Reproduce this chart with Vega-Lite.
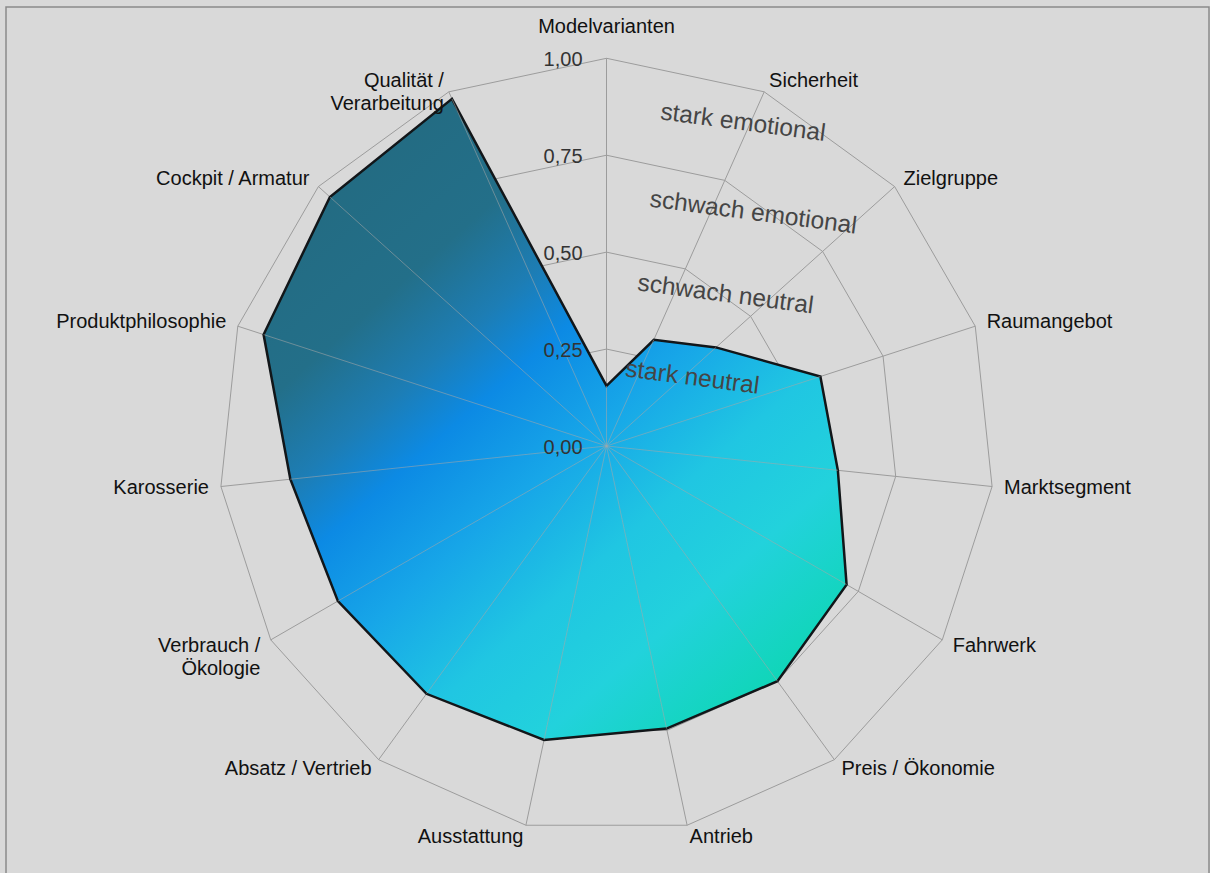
{
  "$schema": "https://vega.github.io/schema/vega-lite/v6.json",
  "width": 1203,
  "height": 868,
  "autosize": "none",
  "padding": {"left": 6, "top": 7, "right": 1, "bottom": 0},
  "background": "#d9d9d9",
  "config": {
    "view": {"stroke": "#8a8a8a", "strokeWidth": 1.5, "fill": "#d9d9d9"},
    "font": "Liberation Sans"
  },
  "datasets": {
    "scores": [
      {"kategorie": "Modelvarianten", "wert": 0.155},
      {"kategorie": "Sicherheit", "wert": 0.30},
      {"kategorie": "Zielgruppe", "wert": 0.38},
      {"kategorie": "Raumangebot", "wert": 0.58},
      {"kategorie": "Marktsegment", "wert": 0.60},
      {"kategorie": "Fahrwerk", "wert": 0.715},
      {"kategorie": "Preis / Ökonomie", "wert": 0.75},
      {"kategorie": "Antrieb", "wert": 0.745},
      {"kategorie": "Ausstattung", "wert": 0.775},
      {"kategorie": "Absatz / Vertrieb", "wert": 0.79},
      {"kategorie": "Verbrauch / Ökologie", "wert": 0.80},
      {"kategorie": "Karosserie", "wert": 0.82},
      {"kategorie": "Produktphilosophie", "wert": 0.93},
      {"kategorie": "Cockpit / Armatur", "wert": 0.96},
      {"kategorie": "Qualität / Verarbeitung", "wert": 0.98}
    ],
    "stufen": [
      {"stufe": 0, "text": "0,00"},
      {"stufe": 0.25, "text": "0,25"},
      {"stufe": 0.5, "text": "0,50"},
      {"stufe": 0.75, "text": "0,75"},
      {"stufe": 1, "text": "1,00"}
    ],
    "zonen": [
      {"zone": "stark emotional", "r": 0.904, "grad": 22.9},
      {"zone": "schwach emotional", "r": 0.71, "grad": 32.2},
      {"zone": "schwach neutral", "r": 0.496, "grad": 38.2},
      {"zone": "stark neutral", "r": 0.282, "grad": 51.6}
    ]
  },
  "layer": [
    {
      "data": {"name": "scores"},
      "transform": [
        {"window": [{"op": "row_number", "as": "nr"}]},
        {"calculate": "(datum.nr - 1) * 2 * PI / 15", "as": "a"},
        {"calculate": "datum.nr * 2 * PI / 15", "as": "a2"},
        {"calculate": "[0.25, 0.5, 0.75, 1]", "as": "ring"},
        {"flatten": ["ring"]},
        {"calculate": "datum.ring * sin(datum.a)", "as": "x"},
        {"calculate": "datum.ring * cos(datum.a)", "as": "y"},
        {"calculate": "datum.ring * sin(datum.a2)", "as": "xe"},
        {"calculate": "datum.ring * cos(datum.a2)", "as": "ye"}
      ],
      "mark": {"type": "rule", "color": "#9c9c9c", "strokeWidth": 1},
      "encoding": {
        "x": {"field": "x", "type": "quantitative", "scale": {"domain": [-1.5489, 1.554], "nice": false, "zero": false}, "axis": null},
        "y": {"field": "y", "type": "quantitative", "scale": {"domain": [-1.1065, 1.1323], "nice": false, "zero": false}, "axis": null},
        "x2": {"field": "xe"},
        "y2": {"field": "ye"}
      }
    },
    {
      "data": {"name": "scores"},
      "transform": [
        {"window": [{"op": "row_number", "as": "nr"}]},
        {"calculate": "(datum.nr - 1) * 2 * PI / 15", "as": "a"},
        {"calculate": "0", "as": "mx"},
        {"calculate": "sin(datum.a)", "as": "sx"},
        {"calculate": "cos(datum.a)", "as": "sy"}
      ],
      "mark": {"type": "rule", "color": "#9c9c9c", "strokeWidth": 1},
      "encoding": {
        "x": {"field": "mx", "type": "quantitative"},
        "y": {"field": "mx", "type": "quantitative"},
        "x2": {"field": "sx"},
        "y2": {"field": "sy"}
      }
    },
    {
      "data": {"name": "scores"},
      "transform": [
        {"window": [{"op": "row_number", "as": "nr"}]},
        {"calculate": "(datum.nr - 1) * 2 * PI / 15", "as": "a"},
        {"calculate": "datum.wert * sin(datum.a)", "as": "px"},
        {"calculate": "datum.wert * cos(datum.a)", "as": "py"}
      ],
      "mark": {
        "type": "line",
        "interpolate": "linear-closed",
        "stroke": "#121619",
        "strokeWidth": 2.5,
        "strokeJoin": "miter",
        "fill": {
          "gradient": "linear",
          "x1": 0, "y1": 0, "x2": 0.8, "y2": 1,
          "stops": [
            {"offset": 0, "color": "#23687c"},
            {"offset": 0.29, "color": "#236f89"},
            {"offset": 0.39, "color": "#1d7db4"},
            {"offset": 0.47, "color": "#0c8ae4"},
            {"offset": 0.59, "color": "#17a6e8"},
            {"offset": 0.72, "color": "#20c6e2"},
            {"offset": 0.84, "color": "#22d2dc"},
            {"offset": 1, "color": "#0ed6b4"}
          ]
        }
      },
      "encoding": {
        "x": {"field": "px", "type": "quantitative"},
        "y": {"field": "py", "type": "quantitative"},
        "order": {"field": "nr", "type": "quantitative"}
      }
    },
    {
      "data": {"name": "scores"},
      "transform": [
        {"window": [{"op": "row_number", "as": "nr"}]},
        {"calculate": "(datum.nr - 1) * 2 * PI / 15", "as": "a"},
        {"calculate": "0", "as": "mx"},
        {"calculate": "datum.wert * sin(datum.a)", "as": "sx"},
        {"calculate": "datum.wert * cos(datum.a)", "as": "sy"}
      ],
      "mark": {"type": "rule", "color": "#a8a8a8", "strokeWidth": 1, "opacity": 0.55},
      "encoding": {
        "x": {"field": "mx", "type": "quantitative"},
        "y": {"field": "mx", "type": "quantitative"},
        "x2": {"field": "sx"},
        "y2": {"field": "sy"}
      }
    },
    {
      "data": {"name": "stufen"},
      "transform": [{"calculate": "0", "as": "mx"}],
      "mark": {"type": "text", "align": "right", "baseline": "middle", "dx": -24, "dy": 2, "fontSize": 20, "color": "#333333"},
      "encoding": {
        "x": {"field": "mx", "type": "quantitative"},
        "y": {"field": "stufe", "type": "quantitative"},
        "text": {"field": "text", "type": "nominal"}
      }
    },
    {
      "data": {"name": "zonen"},
      "transform": [
        {"calculate": "datum.r * sin(datum.grad * PI / 180)", "as": "zx"},
        {"calculate": "datum.r * cos(datum.grad * PI / 180)", "as": "zy"}
      ],
      "mark": {"type": "text", "align": "center", "baseline": "middle", "angle": 7.5, "fontSize": 24.5, "color": "#454545"},
      "encoding": {
        "x": {"field": "zx", "type": "quantitative"},
        "y": {"field": "zy", "type": "quantitative"},
        "text": {"field": "zone", "type": "nominal"}
      }
    },
    {
      "data": {"name": "scores"},
      "transform": [
        {"window": [{"op": "row_number", "as": "nr"}]},
        {"calculate": "(datum.nr - 1) * 2 * PI / 15", "as": "a"},
        {"calculate": "1.031 * sin(datum.a)", "as": "lx"},
        {"calculate": "1.031 * cos(datum.a)", "as": "ly"},
        {"calculate": "length(datum.kategorie) > 18 ? replace(datum.kategorie, ' / ', ' /\\n') : datum.kategorie", "as": "beschriftung"},
        {"filter": "sin(datum.a) > 0.05"}
      ],
      "mark": {"type": "text", "align": "left", "baseline": "middle", "fontSize": 20, "lineHeight": 23, "lineBreak": "\n", "color": "#111111"},
      "encoding": {
        "x": {"field": "lx", "type": "quantitative"},
        "y": {"field": "ly", "type": "quantitative"},
        "text": {"field": "beschriftung", "type": "nominal"}
      }
    },
    {
      "data": {"name": "scores"},
      "transform": [
        {"window": [{"op": "row_number", "as": "nr"}]},
        {"calculate": "(datum.nr - 1) * 2 * PI / 15", "as": "a"},
        {"calculate": "1.031 * sin(datum.a)", "as": "lx"},
        {"calculate": "1.031 * cos(datum.a)", "as": "ly"},
        {"calculate": "length(datum.kategorie) > 18 ? replace(datum.kategorie, ' / ', ' /\\n') : datum.kategorie", "as": "beschriftung"},
        {"filter": "sin(datum.a) < -0.05"}
      ],
      "mark": {"type": "text", "align": "right", "baseline": "middle", "fontSize": 20, "lineHeight": 23, "lineBreak": "\n", "color": "#111111"},
      "encoding": {
        "x": {"field": "lx", "type": "quantitative"},
        "y": {"field": "ly", "type": "quantitative"},
        "text": {"field": "beschriftung", "type": "nominal"}
      }
    },
    {
      "data": {"name": "scores"},
      "transform": [
        {"window": [{"op": "row_number", "as": "nr"}]},
        {"calculate": "(datum.nr - 1) * 2 * PI / 15", "as": "a"},
        {"calculate": "1.08 * sin(datum.a)", "as": "lx"},
        {"calculate": "1.08 * cos(datum.a)", "as": "ly"},
        {"filter": "abs(sin(datum.a)) <= 0.05"}
      ],
      "mark": {"type": "text", "align": "center", "baseline": "middle", "fontSize": 20, "color": "#111111"},
      "encoding": {
        "x": {"field": "lx", "type": "quantitative"},
        "y": {"field": "ly", "type": "quantitative"},
        "text": {"field": "kategorie", "type": "nominal"}
      }
    }
  ]
}
